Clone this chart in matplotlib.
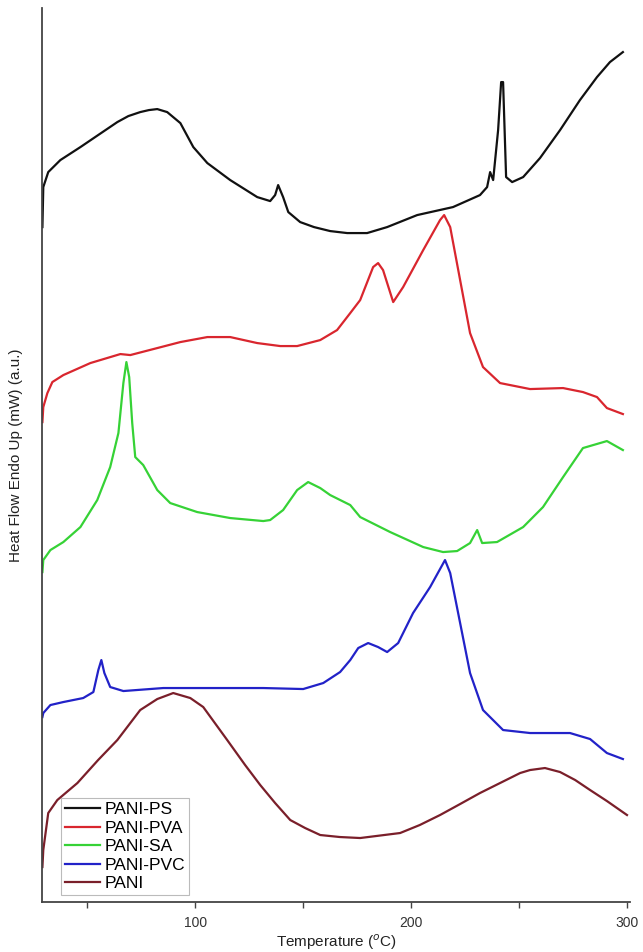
import matplotlib
matplotlib.use("Agg")
import matplotlib.pyplot as plt
from matplotlib.ticker import MultipleLocator

plt.rcParams['font.family'] = ['Liberation Sans', 'DejaVu Sans']

# PANI-PS
ps_T = [29.2, 29.6, 31.9, 37.5, 46.8, 55.0, 63.9, 69.0, 74.5, 78.5, 82.4, 87.0, 93.1, 99.1,
        105.6, 116.2, 128.7, 134.7, 137.0, 138.4, 140.7, 143.1, 148.6, 155.0, 162.5,
        170.4, 179.6, 188.9, 202.8, 219.4, 231.9, 235.2, 236.6, 238.0, 240.3, 241.7,
        242.6, 244.0, 246.8, 251.9, 259.7, 269.0, 278.2, 286.1, 292.1, 298.1]
ps_H = [6.75, 7.15, 7.30, 7.42, 7.55, 7.67, 7.80, 7.86, 7.90, 7.92, 7.93, 7.90, 7.79, 7.55,
        7.39, 7.22, 7.05, 7.01, 7.07, 7.17, 7.05, 6.90, 6.80, 6.75, 6.71,
        6.69, 6.69, 6.75, 6.87, 6.95, 7.07, 7.15, 7.30, 7.22, 7.72, 8.20,
        8.20, 7.25, 7.20, 7.25, 7.44, 7.72, 8.02, 8.25, 8.40, 8.50]

# PANI-PVA
pva_T = [29.2, 29.6, 31.5, 33.8, 38.9, 51.4, 65.3, 69.9, 82.4, 93.1, 105.6, 116.2, 128.7,
         139.4, 147.2, 157.9, 165.7, 171.8, 176.4, 182.4, 184.7, 187.0, 191.7, 196.3,
         205.6, 213.4, 215.3, 218.1, 222.7, 227.3, 233.3, 241.2, 255.1, 270.4, 279.6,
         286.1, 290.7, 298.1]
pva_H = [4.80, 4.95, 5.09, 5.20, 5.27, 5.39, 5.48, 5.47, 5.54, 5.60, 5.65, 5.65, 5.59,
         5.56, 5.56, 5.62, 5.72, 5.89, 6.02, 6.35, 6.39, 6.32, 6.00, 6.15,
         6.52, 6.82, 6.87, 6.75, 6.22, 5.69, 5.35, 5.19, 5.13, 5.14, 5.10,
         5.05, 4.94, 4.88]

# PANI-SA
sa_T = [29.2, 29.6, 32.9, 38.9, 46.8, 54.6, 60.6, 64.4, 66.7, 68.1, 69.4, 70.8, 72.2,
        75.9, 82.4, 88.4, 100.9, 116.2, 131.5, 134.7, 140.7, 147.2, 152.3, 157.9,
        162.5, 171.8, 176.4, 190.3, 205.6, 214.8, 221.3, 227.3, 230.6, 232.9, 239.8,
        251.9, 261.1, 270.4, 279.6, 290.7, 298.1]
sa_H = [3.30, 3.42, 3.52, 3.60, 3.75, 4.02, 4.35, 4.69, 5.19, 5.40, 5.25, 4.79, 4.45,
        4.37, 4.12, 3.99, 3.90, 3.84, 3.81, 3.82, 3.92, 4.12, 4.20, 4.14,
        4.07, 3.97, 3.85, 3.70, 3.55, 3.50, 3.51, 3.59, 3.72, 3.59, 3.60,
        3.75, 3.95, 4.25, 4.54, 4.61, 4.52]

# PANI-PVC
pvc_T = [29.2, 29.6, 32.9, 38.9, 48.1, 52.8, 55.1, 56.5, 57.9, 60.6, 66.7, 85.2, 116.2,
         131.5, 150.0, 159.3, 167.1, 171.8, 175.5, 180.1, 184.7, 188.9, 194.0, 200.9,
         208.8, 215.7, 218.1, 222.7, 227.3, 233.3, 242.6, 255.1, 273.6, 282.9, 290.7,
         298.1]
pvc_H = [1.85, 1.89, 1.97, 2.00, 2.04, 2.10, 2.32, 2.42, 2.29, 2.15, 2.11, 2.14, 2.14,
         2.14, 2.13, 2.19, 2.30, 2.42, 2.54, 2.59, 2.55, 2.50, 2.59, 2.89,
         3.15, 3.42, 3.29, 2.79, 2.29, 1.92, 1.72, 1.69, 1.69, 1.63, 1.49,
         1.43]

# PANI
pani_T = [29.2, 29.6, 31.9, 36.1, 45.4, 55.0, 63.9, 74.5, 82.4, 89.8, 97.7, 103.7, 114.8,
          123.1, 130.1, 137.0, 144.0, 150.9, 157.9, 167.0, 176.4, 194.9, 204.0, 213.4,
          222.7, 231.9, 241.2, 250.5, 255.1, 262.0, 269.0, 276.0, 282.9, 290.7, 300.0]
pani_H = [0.35, 0.52, 0.89, 1.02, 1.19, 1.42, 1.62, 1.92, 2.03, 2.09, 2.04, 1.95, 1.62,
          1.37, 1.17, 0.99, 0.82, 0.74, 0.67, 0.65, 0.64, 0.69, 0.77, 0.87,
          0.98, 1.09, 1.19, 1.29, 1.32, 1.34, 1.30, 1.22, 1.12, 1.01, 0.87]

labels = ['PANI-PS', 'PANI-PVA', 'PANI-SA', 'PANI-PVC', 'PANI']
colors = ['#111111', '#d9262e', '#36d236', '#2222c8', '#7a1f2a']

fig = plt.figure(figsize=(6.43, 9.52), dpi=100)
ax = fig.add_axes([0.0653, 0.0525, 0.9145, 0.939])

series = [(ps_T, ps_H), (pva_T, pva_H), (sa_T, sa_H), (pvc_T, pvc_H), (pani_T, pani_H)]
for (t, h), lab, c in zip(series, labels, colors):
    ax.plot(t, h, color=c, lw=1.6, label=lab, solid_joinstyle='round')

ax.set_xlim(29, 301.4)
ax.set_ylim(0, 8.94)
ax.xaxis.set_major_locator(MultipleLocator(100))
ax.xaxis.set_minor_locator(MultipleLocator(50))
ax.set_yticks([])
for s in ['top', 'right']:
    ax.spines[s].set_visible(False)
for s in ['left', 'bottom']:
    ax.spines[s].set_color('#444444')
    ax.spines[s].set_linewidth(1.3)
ax.tick_params(axis='x', which='both', direction='out', length=4, width=1,
               colors='#444444', labelsize=10, labelcolor='#333333', pad=6)
ax.set_xlabel('Temperature ($^{o}$C)', fontsize=11, color='#222222', labelpad=2)
ax.set_ylabel('Heat Flow Endo Up (mW) (a.u.)', fontsize=11, color='#222222', labelpad=14)

leg = ax.legend(loc='lower left', bbox_to_anchor=(0.027, 0.004), fontsize=12.5,
                frameon=True, fancybox=False, edgecolor='#aaaaaa',
                handlelength=2.0, handletextpad=0.3, borderpad=0.2,
                labelspacing=0.2, borderaxespad=0.2)
leg.get_frame().set_linewidth(0.8)

fig.savefig('out.png', dpi=100)
